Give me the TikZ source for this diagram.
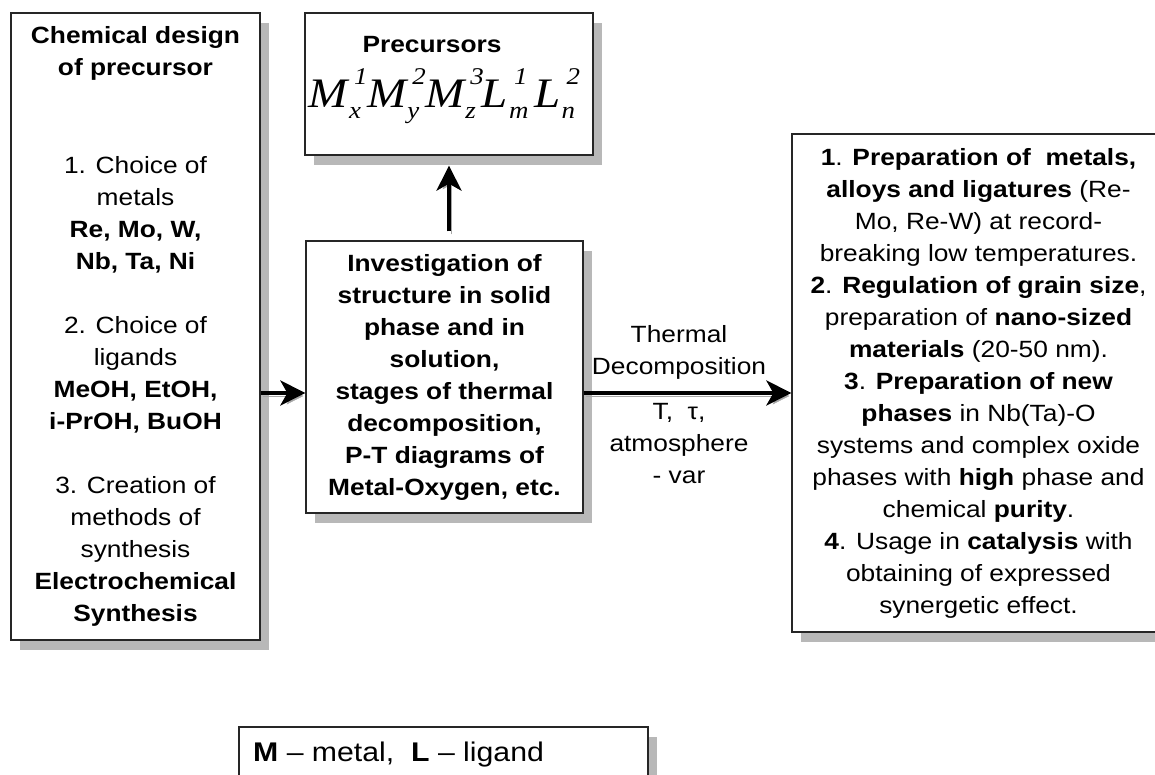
\documentclass[tikz,border=0pt]{standalone}
\usepackage{fontspec}
\setmainfont{Liberation Sans}[FakeStretch=1.12]
\newfontfamily\formulafont{Liberation Serif}[FakeStretch=1.12]
\usetikzlibrary{shadows,arrows.meta}

% body text size and line pitch
\newcommand\txtsize{\fontsize{23.5}{32}\selectfont}
% base letter with stacked super- and subscript
\newcommand\supsub[3]{#1\kern1pt\rlap{\kern5pt\raisebox{0.56em}{\fontsize{24}{24}\selectfont #2}}\raisebox{-0.26em}{\fontsize{24}{24}\selectfont #3}\kern6pt}

\begin{document}
\begin{tikzpicture}[x=1pt,y=1pt,
  box/.style={draw=black!85, line width=1.3pt, fill=white,
    drop shadow={shadow xshift=9pt, shadow yshift=-10pt, fill=black!28, opacity=1},
    inner sep=0pt, align=center, font=\txtsize},
  label/.style={inner sep=0pt, align=center, font=\txtsize},
  arr/.style={line width=4pt, -{Stealth[length=25pt,width=25pt,inset=7pt]},
    preaction={draw=black!35, transform canvas={shift={(2pt,-3pt)}}}},
]
\useasboundingbox (0,0) rectangle (1155,775);
\fill[white] (0,0) rectangle (1155,775);

% left column: chemical design
\node[box, minimum width=249pt, minimum height=627pt] (design) at (135.5,448.5)
  {\textbf{Chemical design}\\ \textbf{of precursor}\\[66pt]
   1. Choice of\\ metals\\ \textbf{Re, Mo, W,}\\ \textbf{Nb, Ta, Ni}\\[32pt]
   2. Choice of\\ ligands\\ \textbf{MeOH, EtOH,}\\ \textbf{i-PrOH, BuOH}\\[32pt]
   3. Creation of\\ methods of\\ synthesis\\ \textbf{Electrochemical}\\ \textbf{Synthesis}};

% precursors
\node[box, minimum width=288pt, minimum height=142pt] (prec) at (449,691) {};
\node[label, anchor=base] (prectitle) at (432,722) {\textbf{Precursors}};
\node[inner sep=0pt, anchor=base] (formula) at (445,667)
  {\formulafont\itshape\fontsize{42}{42}\selectfont
   \supsub{M}{1}{x}\supsub{M}{2}{y}\supsub{M}{3}{z}\supsub{L}{1}{m}\supsub{L}{2}{n}};

% investigation box
\node[box, minimum width=277pt, minimum height=272pt, font=\txtsize\bfseries] (study) at (444.5,398)
  {Investigation of\\ structure in solid\\ phase and in\\ solution,\\
   stages of thermal\\ decomposition,\\ P-T diagrams of\\ Metal-Oxygen, etc.};

% results box
\node[box, minimum width=373pt, minimum height=498pt] (results) at (978.5,392)
  {\textbf{1}. \textbf{Preparation of \ metals,}\\
   \textbf{alloys and ligatures} (Re-\\
   Mo, Re-W) at record-\\
   breaking low temperatures.\\
   \textbf{2}. \textbf{Regulation of grain size},\\
   preparation of \textbf{nano-sized}\\
   \textbf{materials} (20-50 nm).\\
   \textbf{3}. \textbf{Preparation of new}\\
   \textbf{phases} in Nb(Ta)-O\\
   systems and complex oxide\\
   phases with \textbf{high} phase and\\
   chemical \textbf{purity}.\\
   \textbf{4}. Usage in \textbf{catalysis} with\\
   obtaining of expressed\\
   synergetic effect.};

% legend
\node[box, minimum width=409pt, minimum height=63pt] (legend) at (443.5,16.5) {};
\node[inner sep=0pt, anchor=base west, font=\fontsize{27}{27}\selectfont] (legtext) at (253,13)
  {\textbf{M} -- metal,\ \ \textbf{L} -- ligand};

% connectors
\coordinate (lvl) at (0,382);
\draw[arr] (design.east |- lvl) -- (study.west |- lvl);
\draw[arr] (study.east |- lvl) -- (results.west |- lvl);
\draw[arr, shorten <=9pt, shorten >=10pt] (prec.south |- study.north) -- (prec.south);

% process conditions
\node[label, anchor=north] (thermal) at (679,450) {Thermal\\ Decomposition};
\node[label, anchor=north] (params) at (679,372) {T,\ \ τ,\\ atmosphere\\ - var};
\end{tikzpicture}
\end{document}
